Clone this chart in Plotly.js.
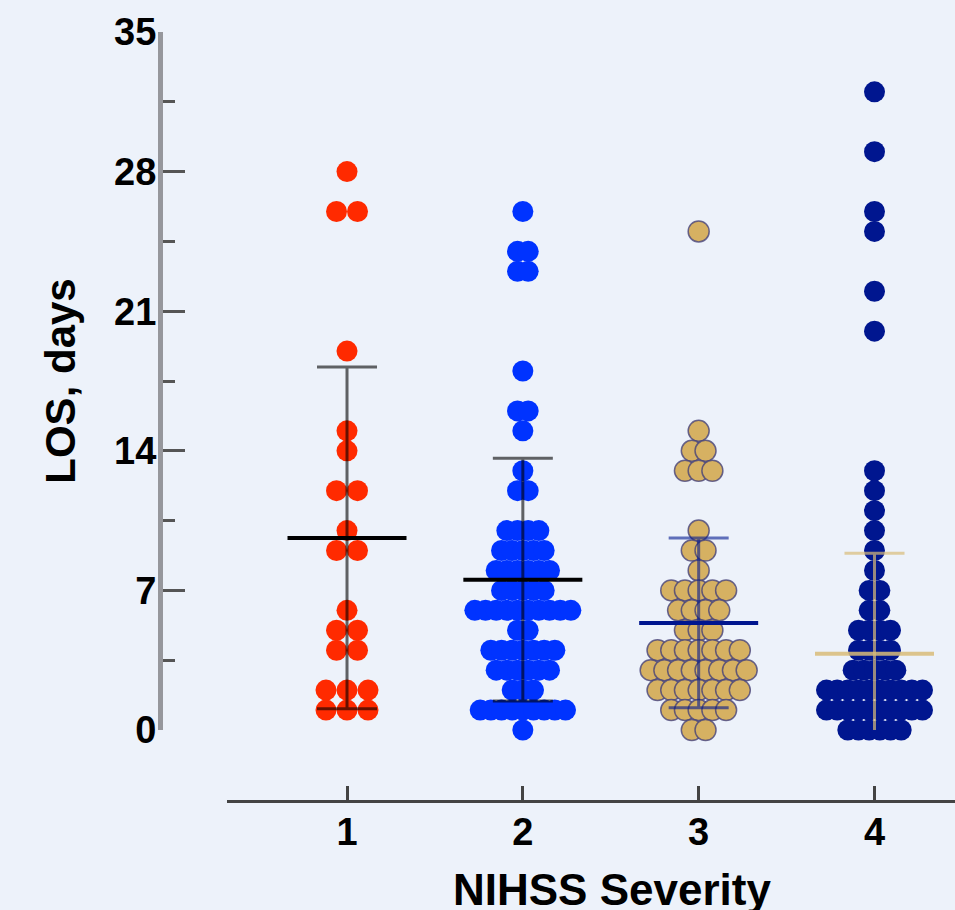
<!DOCTYPE html>
<html><head><meta charset="utf-8">
<script src="https://cdn.plot.ly/plotly-3.0.1.min.js"></script>
<style>html,body{margin:0;padding:0;background:#edf2fa;} #chart{width:955px;height:910px;}</style>
</head><body><div id="chart"></div>
<script>
// ---------------- data ----------------
const categories = [1, 2, 3, 4];
const categoryLabels = ['1', '2', '3', '4'];
const losGroup1 = [28, 26, 26, 19, 15, 14, 12, 12, 10, 9, 9, 6, 5, 5, 4, 4, 2, 2, 2, 1, 1, 1];
const losGroup2 = [26, 24, 24, 23, 23, 18, 16, 16, 15, 13, 12, 12,
  10, 10, 10, 10, 9, 9, 9, 9, 9, 8, 8, 8, 8, 8, 8, 7, 7, 7, 7, 7,
  6, 6, 6, 6, 6, 6, 6, 6, 6, 6, 5, 5, 4, 4, 4, 4, 4, 4, 4,
  3, 3, 3, 3, 3, 3, 2, 2, 2, 1, 1, 1, 1, 1, 1, 1, 1, 1, 0];
const losGroup3 = [25, 15, 14, 14, 13, 13, 13, 10, 9, 9, 8, 7, 7, 7, 7, 7,
  6, 6, 6, 6, 5, 5, 5, 4, 4, 4, 4, 4, 4, 4, 3, 3, 3, 3, 3, 3, 3, 3,
  2, 2, 2, 2, 2, 2, 2, 1, 1, 1, 1, 1, 0, 0];
const losGroup4 = [32, 29, 26, 25, 22, 20, 13, 12, 11, 10, 9, 8, 7, 7, 6, 6,
  5, 5, 5, 5, 4, 4, 4, 4, 3, 3, 3, 3, 3,
  2, 2, 2, 2, 2, 2, 2, 2, 2, 2, 1, 1, 1, 1, 1, 1, 1, 1, 1, 1,
  0, 0, 0, 0, 0, 0];
const groupMeans = [9.63, 7.54, 5.37, 3.82];
const groupSDs = [8.57, 6.09, 4.26, 5.04];
const yTickVals = [0, 7, 14, 21, 28, 35];
const yTickLabels = ['0', '7', '14', '21', '28', '35'];
const axisTitleX = 'NIHSS Severity';
const axisTitleY = 'LOS, days';

// ---------------- geometry / style ----------------
const W = 955, H = 910, L = 160, T = 32, B = 801;
const plotW = W - L, plotH = B - T;
const xDomain = [(227 - L) / plotW, 1];
const xRange = [0.3175, 4.4578];
const yDomain = [(B - 730) / plotH, 1];
const yRange = [0, 35];
const pxPerX = plotW * (xDomain[1] - xDomain[0]) / (xRange[1] - xRange[0]);
const DOT = 21, MAXSPAN = 117;
const FONT = 'Liberation Sans, Arial, Helvetica, sans-serif';

// beeswarm-like layout: equal values share a row, centred, spread horizontally
function swarmX(values, center) {
  const counts = {};
  values.forEach(v => { counts[v] = (counts[v] || 0) + 1; });
  const maxN = Math.max(...Object.values(counts));
  const step = maxN > 1 ? Math.min(DOT, (MAXSPAN - DOT) / (maxN - 1)) : DOT;
  const seen = {};
  return values.map(v => {
    const n = counts[v];
    const i = seen[v] = (seen[v] === undefined ? 0 : seen[v] + 1);
    return center + (i - (n - 1) / 2) * step / pxPerX;
  });
}

const groupsData = [losGroup1, losGroup2, losGroup3, losGroup4];
const dotStyles = [
  {color: '#ff2a00', line: {width: 0}},
  {color: '#0033ff', line: {width: 0}},
  {color: '#d6b162', line: {width: 1.5, color: 'rgba(70,66,120,0.8)'}},
  {color: '#00168f', line: {width: 0}}
];
const meanColors = ['#000000', '#000000', '#00168f', 'rgba(216,188,120,0.85)'];
const barColors = ['rgba(0,0,0,0.6)', 'rgba(0,0,0,0.6)', 'rgba(0,23,143,0.6)', 'rgba(216,188,120,0.7)'];

const traces = [];
groupsData.forEach((vals, k) => {
  traces.push({
    type: 'scatter', mode: 'markers',
    x: swarmX(vals, categories[k]), y: vals,
    marker: Object.assign({size: DOT, opacity: 1}, dotStyles[k]),
    cliponaxis: false, hoverinfo: 'skip', showlegend: false
  });
});
groupsData.forEach((vals, k) => {
  traces.push({
    type: 'scatter', mode: 'markers', xaxis: 'x2', yaxis: 'y2',
    x: [categories[k]], y: [groupMeans[k]],
    marker: {symbol: 'line-ew', size: 119 / 1.4, line: {width: 4, color: meanColors[k]}},
    error_y: {type: 'data', array: [groupSDs[k]], visible: true, color: barColors[k], thickness: 3, width: 30},
    hoverinfo: 'skip', showlegend: false
  });
});

const tickFont = {family: FONT, size: 38, color: '#000', weight: 'bold'};
const layout = {
  width: W, height: H,
  margin: {l: L, r: 0, t: T, b: H - B, pad: 0},
  paper_bgcolor: '#edf2fa', plot_bgcolor: '#edf2fa',
  showlegend: false,
  xaxis: {
    domain: xDomain, range: xRange, anchor: 'free', position: 0,
    tickmode: 'array', tickvals: categories, ticktext: categoryLabels,
    ticks: 'inside', ticklen: 14, tickwidth: 3, tickcolor: '#444',
    showline: true, linecolor: '#444', linewidth: 3,
    showgrid: false, zeroline: false, tickfont: tickFont, ticklabelstandoff: -4
  },
  yaxis: {
    domain: yDomain, range: yRange, anchor: 'free', position: 0,
    tickmode: 'array', tickvals: yTickVals, ticktext: yTickLabels,
    ticks: 'inside', ticklen: 22, tickwidth: 3, tickcolor: '#555',
    minor: {tickmode: 'linear', tick0: 0, dtick: 3.5, ticks: 'inside', ticklen: 12, tickwidth: 3, tickcolor: '#555', showgrid: false},
    showline: true, linecolor: '#96979c', linewidth: 5,
    showgrid: false, zeroline: false, tickfont: tickFont, ticklabelstandoff: -6,
    title: {text: axisTitleY, font: {family: FONT, size: 42, color: '#000', weight: 'bold'}, standoff: 24}
  },
  xaxis2: {overlaying: 'x', range: xRange, visible: false, anchor: 'y2'},
  yaxis2: {overlaying: 'y', range: yRange, visible: false, anchor: 'x2'},
  annotations: [{
    text: axisTitleX, xref: 'paper', yref: 'paper',
    x: (612 - L) / plotW, y: (B - 889) / plotH, xanchor: 'center', yanchor: 'middle',
    showarrow: false, font: {family: FONT, size: 44, color: '#000', weight: 'bold'}
  }]
};

Plotly.newPlot('chart', traces, layout, {displayModeBar: false, staticPlot: true});
</script>
</body></html>
